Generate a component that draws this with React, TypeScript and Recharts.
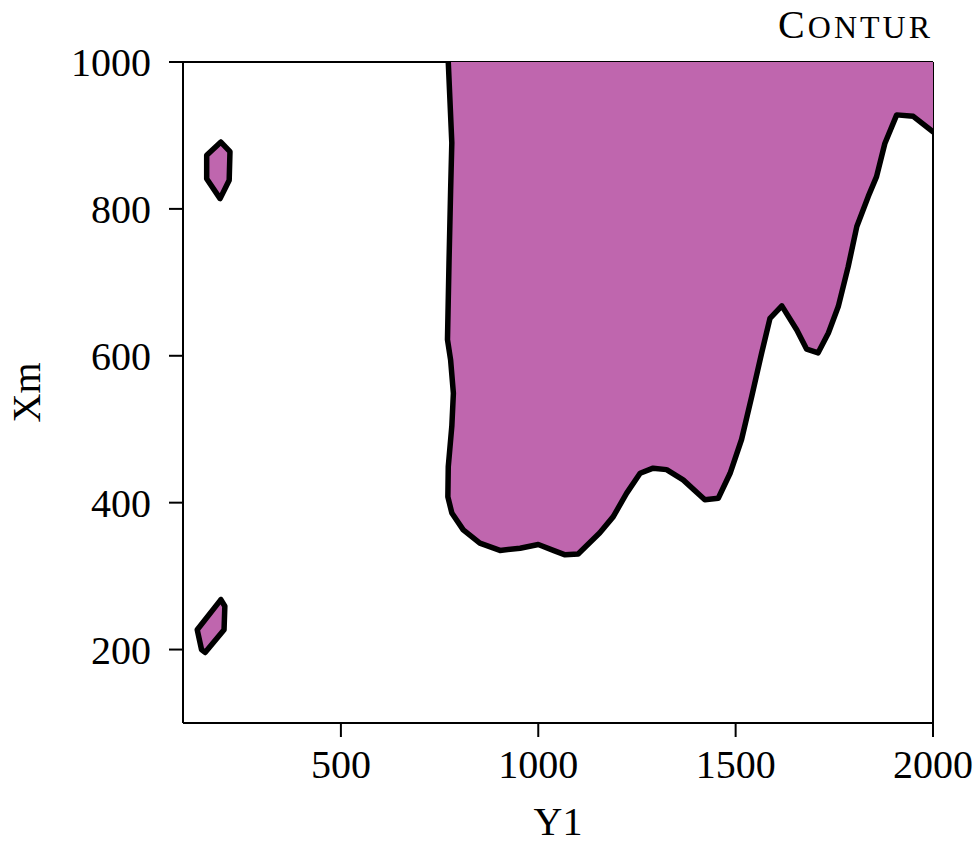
import React from 'react';
import { ComposedChart, Scatter, XAxis, YAxis, ReferenceLine } from 'recharts';

const PURPLE = '#bf66ae';
const INK = '#000';
const SERIF = '"Liberation Serif", "DejaVu Serif", serif';

// Level boundary of the big region: from the top edge, down and round to the right edge
const mainY1 = [772, 781, 778, 774, 770, 778, 785, 781, 772, 771, 781, 810, 852, 903, 954, 1000, 1038, 1068, 1101, 1156, 1190, 1224, 1258, 1291, 1325, 1367, 1422, 1456, 1486, 1515, 1541, 1566, 1587, 1617, 1655, 1680, 1709, 1735, 1760, 1785, 1807, 1836, 1857, 1878, 1908, 1950, 2000];
const mainXm = [1000, 890, 826, 730, 622, 594, 549, 504, 449, 408, 386, 363, 345, 335, 338, 343, 335, 329, 330, 359, 381, 413, 440, 447, 445, 431, 404, 406, 440, 486, 545, 604, 651, 668, 635, 609, 604, 631, 667, 721, 776, 817, 844, 889, 928, 926, 905];

// corners of the frame that close the big region
const cornerY1 = [2000, 772];
const cornerXm = [1000, 1000];

// small closed islands
const upperIslandY1 = [196, 219, 217, 194, 160, 160, 196];
const upperIslandXm = [891, 878, 839, 814, 841, 873, 891];
const lowerIslandY1 = [196, 206, 204, 156, 147, 136, 196];
const lowerIslandXm = [268, 259, 227, 196, 200, 227, 268];

const xDomain = [100, 2000];
const yDomain = [100, 1000];
const xTicks = [500, 1000, 1500, 2000];
const yTicks = [200, 400, 600, 800, 1000];

const toPoints = (y1: number[], xm: number[]) => y1.map((v, i) => ({ y1: v, xm: xm[i] }));

const mainEdge = toPoints(mainY1, mainXm);
const mainFill = toPoints([...mainY1, ...cornerY1], [...mainXm, ...cornerXm]);
const upperIsland = toPoints(upperIslandY1, upperIslandXm);
const lowerIsland = toPoints(lowerIslandY1, lowerIslandXm);

const noMarker = () => <g />;

const edgeStyle = { stroke: INK, strokeWidth: 5.5, strokeLinejoin: 'round', strokeLinecap: 'round' };

const tickStyle = { fill: INK, fontSize: 40, fontFamily: SERIF };
const lineStyle = { stroke: INK, strokeWidth: 2 };

const renderXLabel = ({ viewBox }: any) => (
  <text
    x={viewBox.x + viewBox.width / 2}
    y={viewBox.y + viewBox.height - 3}
    textAnchor="middle"
    fontSize={40}
    fontFamily={SERIF}
    fill={INK}
  >
    Y1
  </text>
);

const renderYLabel = ({ viewBox }: any) => {
  const cx = 40;
  const cy = viewBox.y + viewBox.height / 2;
  return (
    <text
      x={cx}
      y={cy}
      transform={`rotate(-90 ${cx} ${cy})`}
      textAnchor="middle"
      fontSize={40}
      fontFamily={SERIF}
      fill={INK}
    >
      Xm
    </text>
  );
};

export default function App() {
  return (
    <div style={{ position: 'absolute', left: 0, top: 0, width: 978, height: 843, background: '#fff' }}>
      <ComposedChart width={978} height={843} margin={{ top: 62, right: 45, bottom: 5, left: 0 }}>
        <XAxis
          dataKey="y1"
          type="number"
          domain={xDomain}
          ticks={xTicks}
          allowDataOverflow
          height={115}
          tickSize={14}
          tickMargin={13}
          tick={tickStyle}
          tickLine={lineStyle}
          axisLine={lineStyle}
          label={{ content: renderXLabel }}
        />
        <YAxis
          dataKey="xm"
          type="number"
          domain={yDomain}
          ticks={yTicks}
          allowDataOverflow
          width={183}
          tickSize={14}
          tickMargin={18}
          tick={tickStyle}
          tickLine={lineStyle}
          axisLine={lineStyle}
          label={{ content: renderYLabel }}
        />

        <Scatter data={mainFill} shape={noMarker} line={{ fill: PURPLE, stroke: 'none' }} legendType="none" isAnimationActive={false} />
        <Scatter data={mainEdge} shape={noMarker} line={{ ...edgeStyle, fill: 'none' }} legendType="none" isAnimationActive={false} />
        <Scatter data={upperIsland} shape={noMarker} line={{ ...edgeStyle, fill: PURPLE }} legendType="none" isAnimationActive={false} />
        <Scatter data={lowerIsland} shape={noMarker} line={{ ...edgeStyle, fill: PURPLE }} legendType="none" isAnimationActive={false} />

        {/* top and right frame edges */}
        <ReferenceLine y={yDomain[1]} stroke={INK} strokeWidth={2} />
        <ReferenceLine x={xDomain[1]} stroke={INK} strokeWidth={2} />
      </ComposedChart>
      <svg width={978} height={843} style={{ position: 'absolute', left: 0, top: 0, pointerEvents: 'none' }}>
        <text x={933} y={38} textAnchor="end" fontFamily={SERIF} fill={INK} letterSpacing={3}>
          <tspan fontSize={40}>C</tspan>
          <tspan fontSize={32}>ONTUR</tspan>
        </text>
      </svg>
    </div>
  );
}
